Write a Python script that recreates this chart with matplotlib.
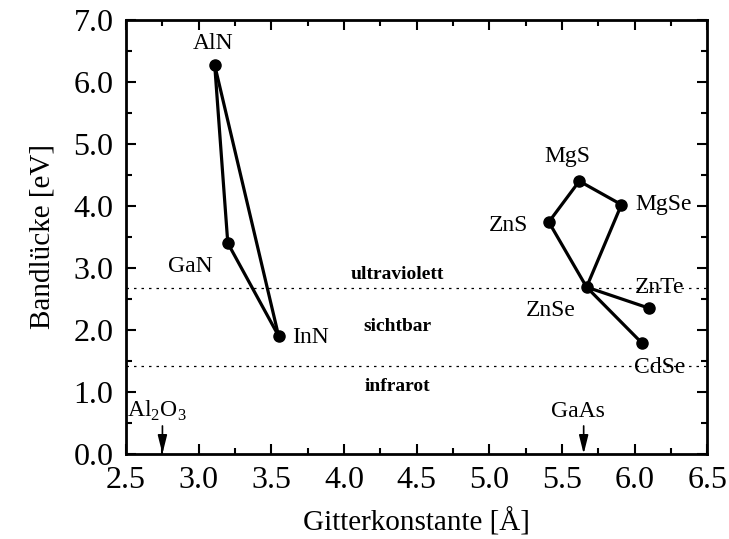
import matplotlib
matplotlib.use('Agg')
import matplotlib.pyplot as plt
from matplotlib.ticker import MultipleLocator

plt.rcParams['font.family'] = ['Liberation Serif', 'DejaVu Serif']
plt.rcParams['mathtext.fontset'] = 'custom'
plt.rcParams['mathtext.rm'] = 'Liberation Serif'

# Nitride group
nit_names = ['AlN', 'GaN', 'InN']
nit_a = [3.11, 3.20, 3.55]
nit_eg = [6.27, 3.40, 1.90]

# II-VI group
vi_names = ['ZnS', 'MgS', 'MgSe', 'ZnSe', 'ZnTe', 'CdSe']
vi_a = [5.41, 5.62, 5.91, 5.67, 6.10, 6.05]
vi_eg = [3.74, 4.40, 4.02, 2.69, 2.35, 1.79]

# connections (index pairs)
nit_links = [(0, 1), (1, 2), (2, 0)]
vi_links = [(0, 1), (1, 2), (2, 3), (3, 0), (3, 4), (3, 5)]

# label positions
nit_label_pos = [(3.10, 6.62), (2.94, 3.02), (3.77, 1.87)]
vi_label_pos = [(5.13, 3.69), (5.54, 4.79), (6.20, 4.02), (5.42, 2.32), (6.17, 2.69), (6.17, 1.40)]

# region borders and labels
borders = [2.68, 1.42]
regions = ['ultraviolett', 'sichtbar', 'infrarot']
region_y = [2.90, 2.06, 1.08]

# substrates
subs = ['Al$_2$O$_3$', 'GaAs']
subs_a = [2.75, 5.65]

fig = plt.figure(figsize=(7.29, 5.39), dpi=100)
ax = fig.add_axes([0.173, 0.158, 0.797, 0.805])

for xs, ys, links in [(nit_a, nit_eg, nit_links), (vi_a, vi_eg, vi_links)]:
    for i, j in links:
        ax.plot([xs[i], xs[j]], [ys[i], ys[j]], color='black', lw=2.3, solid_capstyle='round')
    ax.plot(xs, ys, 'o', color='black', ms=8, zorder=3)

for name, (lx, ly) in zip(nit_names + vi_names, nit_label_pos + vi_label_pos):
    ax.text(lx, ly, name, ha='center', va='center', fontsize=17)

for b in borders:
    ax.axhline(b, color='black', lw=0.9, linestyle=(0, (2, 4)))
for r, ry in zip(regions, region_y):
    ax.text(4.37, ry, r, ha='center', va='center', fontsize=14, fontweight='bold')

for s, sa in zip(subs, subs_a):
    ax.annotate('', xy=(sa, 0.0), xytext=(sa, 0.45),
                arrowprops=dict(arrowstyle='-|>,head_length=0.8,head_width=0.2', color='black',
                                lw=1.2, mutation_scale=14, shrinkA=0, shrinkB=0))
    ax.text(sa - 0.04, 0.69, s, ha='center', va='center', fontsize=17)

ax.set_xlim(2.5, 6.5)
ax.set_ylim(0.0, 7.0)
ax.xaxis.set_major_locator(MultipleLocator(0.5))
ax.xaxis.set_minor_locator(MultipleLocator(0.25))
ax.yaxis.set_major_locator(MultipleLocator(1.0))
ax.yaxis.set_minor_locator(MultipleLocator(0.5))
ax.xaxis.set_major_formatter(plt.FormatStrFormatter('%.1f'))
ax.yaxis.set_major_formatter(plt.FormatStrFormatter('%.1f'))
ax.tick_params(which='both', direction='in', top=True, right=True, width=1.5, labelsize=23, pad=9)
ax.tick_params(which='major', length=7)
ax.tick_params(which='minor', length=4)
for sp in ax.spines.values():
    sp.set_linewidth(2)

ax.set_xlabel('Gitterkonstante [Å]', fontsize=21, labelpad=9)
ax.set_ylabel('Bandlücke [eV]', fontsize=21, labelpad=13)

fig.savefig('out.png', dpi=100)
